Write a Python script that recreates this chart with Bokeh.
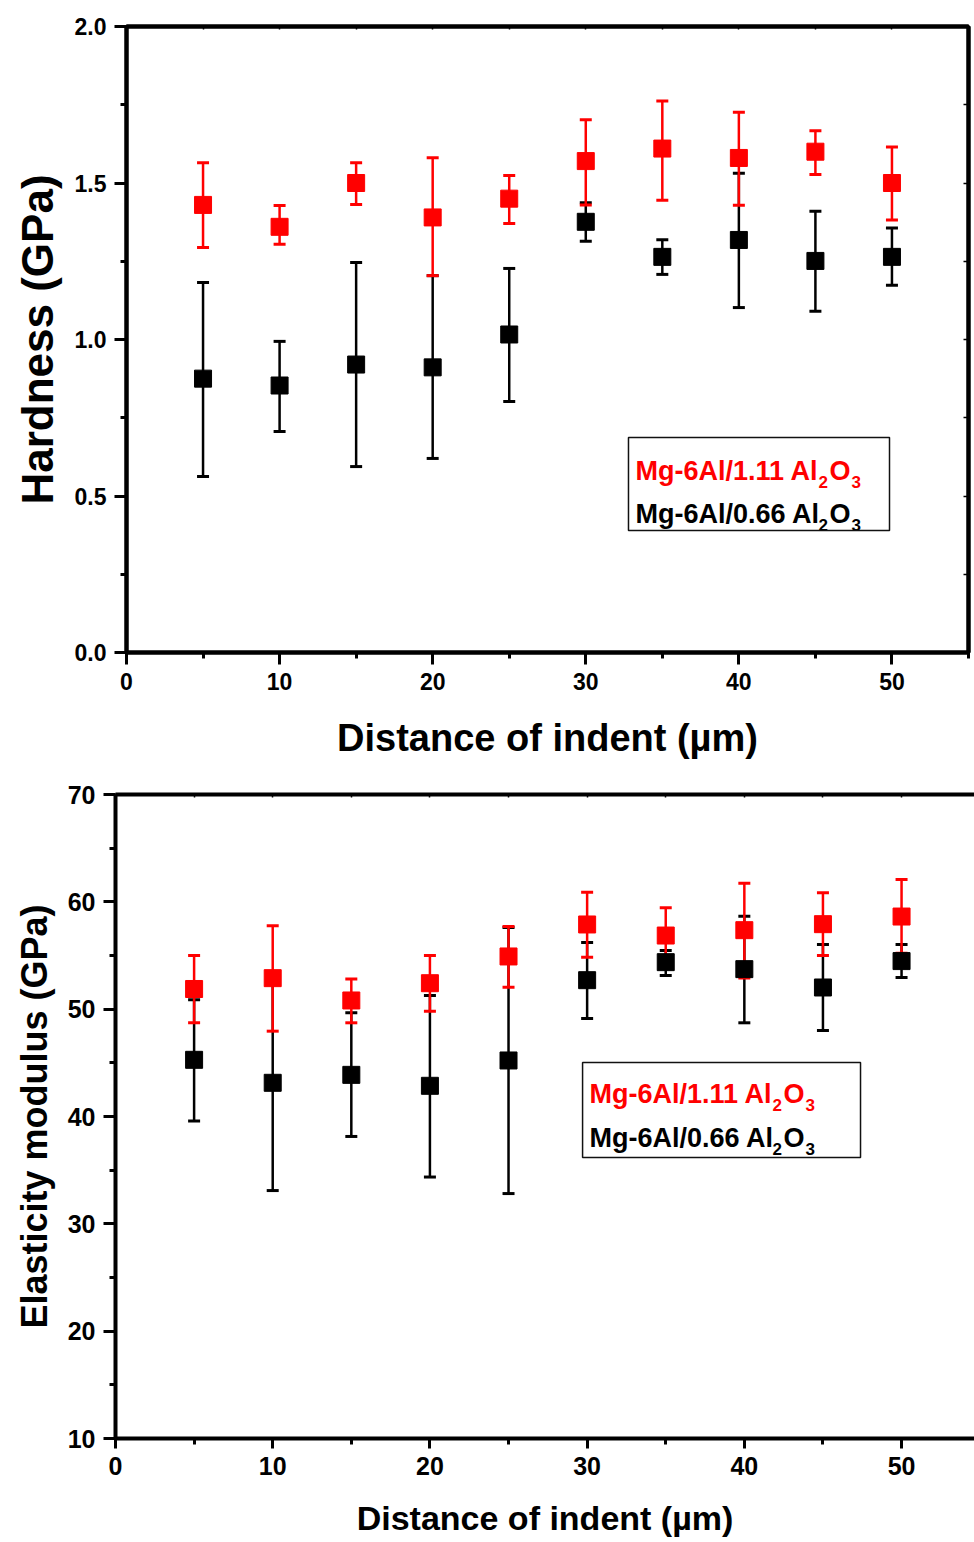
from bokeh.plotting import figure
from bokeh.models import (Whisker, TeeHead, ColumnDataSource, LinearAxis, SingleIntervalTicker,
                          NumeralTickFormatter, Label, BoxAnnotation, Range1d)
from bokeh.embed import file_html
from bokeh.resources import INLINE

# ---------------- data ----------------
distance = [5, 10, 15, 20, 25, 30, 35, 40, 45, 50]

# Hardness (GPa)
hard_111 = [1.43, 1.36, 1.50, 1.39, 1.45, 1.57, 1.61, 1.58, 1.60, 1.50]
hard_111_up = [1.565, 1.428, 1.565, 1.581, 1.524, 1.702, 1.762, 1.726, 1.667, 1.615]
hard_111_lo = [1.294, 1.304, 1.431, 1.204, 1.371, 1.430, 1.445, 1.429, 1.527, 1.382]
hard_066 = [0.875, 0.853, 0.920, 0.911, 1.016, 1.376, 1.264, 1.318, 1.251, 1.264]
hard_066_up = [1.182, 0.994, 1.246, 1.204, 1.227, 1.437, 1.319, 1.531, 1.410, 1.356]
hard_066_lo = [0.562, 0.706, 0.594, 0.620, 0.802, 1.314, 1.208, 1.102, 1.090, 1.173]

# Elasticity modulus (GPa)
mod_111 = [51.88, 52.89, 50.81, 52.42, 54.91, 57.89, 56.86, 57.36, 57.92, 58.63]
mod_111_up = [55.00, 57.77, 52.82, 55.00, 57.70, 60.90, 59.44, 61.74, 60.84, 62.08]
mod_111_lo = [48.73, 47.95, 48.73, 49.81, 52.05, 54.84, 54.29, 52.90, 55.00, 55.22]
mod_066 = [45.28, 43.14, 43.88, 42.86, 45.22, 52.70, 54.38, 53.73, 52.02, 54.48]
mod_066_up = [50.87, 53.10, 49.66, 51.27, 57.62, 56.21, 55.47, 58.66, 56.02, 56.02]
mod_066_lo = [39.58, 33.10, 38.14, 34.36, 32.82, 49.13, 53.14, 48.73, 48.01, 52.96]

legend_111 = "Mg-6Al/1.11 Al"
legend_066 = "Mg-6Al/0.66 Al"
x_title = "Distance of indent (\u00b5m)"
y_title_1 = "Hardness (GPa)"
y_title_2 = "Elasticity modulus (GPa)"

RED = "#ff0000"
BLACK = "#000000"
FONT = "Liberation Sans"


def style_axes(p, tick_size, xlab_size, ylab_size, xstand, ystand):
    for ax in p.xaxis + p.yaxis:
        ax.axis_line_width = 4
        ax.axis_line_color = BLACK
        ax.major_tick_line_width = 3
        ax.minor_tick_line_width = 3
        ax.major_tick_out = 12
        ax.major_tick_in = 0
        ax.minor_tick_out = 6
        ax.minor_tick_in = 0
        ax.major_label_text_font = FONT
        ax.major_label_text_font_style = "bold"
        ax.major_label_text_font_size = tick_size
        ax.major_label_text_color = BLACK
        ax.axis_label_text_font = FONT
        ax.axis_label_text_font_style = "bold"
        ax.axis_label_text_color = BLACK
        ax.major_label_standoff = 8
    p.xaxis.axis_label_text_font_size = xlab_size
    p.yaxis.axis_label_text_font_size = ylab_size
    p.xaxis.axis_label_standoff = xstand
    p.yaxis.axis_label_standoff = ystand


def bare_axis(interval, tick_in):
    return LinearAxis(ticker=SingleIntervalTicker(interval=interval, num_minor_ticks=0),
                      axis_line_width=4, axis_line_color=BLACK,
                      major_tick_in=tick_in, major_tick_out=0, major_tick_line_width=1.5,
                      minor_tick_in=0, minor_tick_out=0,
                      major_label_text_font_size="1px", major_label_standoff=0,
                      major_label_text_alpha=0)


def add_series(p, y, up, lo, color):
    src = ColumnDataSource(dict(x=distance, y=y, up=up, lo=lo))
    w = Whisker(source=src, base="x", upper="up", lower="lo", dimension="height",
                line_color=color, line_width=2.5,
                upper_head=TeeHead(size=12, line_color=color, line_width=3),
                lower_head=TeeHead(size=12, line_color=color, line_width=3))
    p.add_layout(w)
    p.scatter("x", "y", source=src, marker="square", size=17,
              fill_color=color, line_color=color)


def add_legend(p, box, x0, y1, y2, size=27):
    l, r, t, b = box
    p.add_layout(BoxAnnotation(left=l, right=r, top=t, bottom=b, fill_alpha=0,
                               line_color="#111111", line_alpha=1.0, line_width=1.5,
                               level="overlay"))
    for txt, yy, col in [(legend_111, y1, RED), (legend_066, y2, BLACK)]:
        parts = [(txt, 0, 0, size), ("2", 183, -11, 17), ("O", 194, 0, size), ("3", 216, -11, 17)]
        for t_, xo, yo, fs in parts:
            p.add_layout(Label(x=x0, y=yy, x_offset=xo, y_offset=yo, text=t_,
                               text_font=FONT, text_font_style="bold",
                               text_font_size=f"{fs}px", text_color=col,
                               text_baseline="alphabetic", text_align="left"))


# ---------------- top: hardness ----------------
p1 = figure(width=974, height=775, output_backend="svg", toolbar_location=None,
            x_range=Range1d(0, 55), y_range=Range1d(0, 2.0),
            min_border_left=126, min_border_right=6, min_border_top=26, min_border_bottom=123,
            x_axis_label=x_title, y_axis_label=y_title_1)
p1.xgrid.visible = False
p1.ygrid.visible = False
p1.outline_line_color = BLACK
p1.outline_line_width = 4
p1.outline_line_alpha = 1
p1.background_fill_color = "white"
p1.border_fill_color = "white"
p1.xaxis.ticker = SingleIntervalTicker(interval=10, num_minor_ticks=2)
p1.yaxis.ticker = SingleIntervalTicker(interval=0.5, num_minor_ticks=2)
p1.yaxis.formatter = NumeralTickFormatter(format="0.0")
style_axes(p1, "23px", "38px", "44px", 24, 10)
p1.add_layout(bare_axis(0.25, 5), "right")
p1.add_layout(bare_axis(5, 3), "above")

add_series(p1, hard_066, hard_066_up, hard_066_lo, BLACK)
add_series(p1, hard_111, hard_111_up, hard_111_lo, RED)
add_legend(p1, (32.79, 49.84, 0.687, 0.390), 33.25, 0.581, 0.444)

# ---------------- bottom: elasticity modulus ----------------
p2 = figure(width=974, height=767, output_backend="svg", toolbar_location=None,
            x_range=Range1d(0, 54.64), y_range=Range1d(10, 70),
            min_border_left=115, min_border_right=0, min_border_top=19, min_border_bottom=104,
            x_axis_label=x_title, y_axis_label=y_title_2)
p2.xgrid.visible = False
p2.ygrid.visible = False
p2.outline_line_color = None
p2.background_fill_color = "white"
p2.border_fill_color = "white"
p2.xaxis.ticker = SingleIntervalTicker(interval=10, num_minor_ticks=2)
p2.yaxis.ticker = SingleIntervalTicker(interval=10, num_minor_ticks=2)
style_axes(p2, "25px", "34px", "36px", 21, 10)
p2.xaxis.major_tick_out = 10
p2.xaxis.major_label_standoff = 8
p2.add_layout(bare_axis(5, 3), "above")

add_series(p2, mod_066, mod_066_up, mod_066_lo, BLACK)
add_series(p2, mod_111, mod_111_up, mod_111_lo, RED)
add_legend(p2, (29.71, 47.39, 45.03, 36.18), 30.15, 42.14, 38.04)

open("out.html", "w").write(file_html([p1, p2], INLINE))
